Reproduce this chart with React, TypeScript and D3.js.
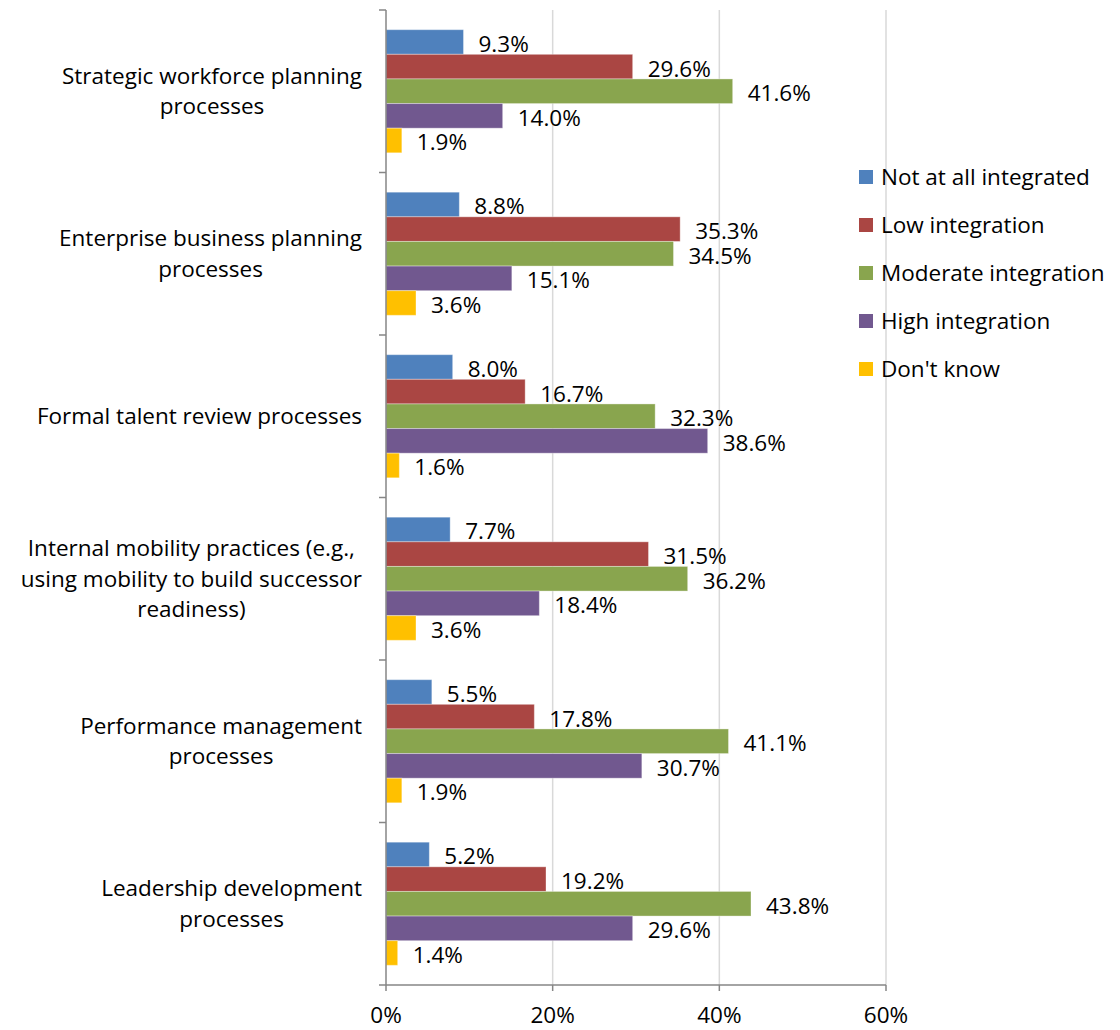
import { useEffect, useRef } from "react";
import * as d3 from "d3";

// categories (top to bottom) and their wrapped label lines
const categories = [
  "Strategic workforce planning processes",
  "Enterprise business planning processes",
  "Formal talent review processes",
  "Internal mobility practices (e.g., using mobility to build successor readiness)",
  "Performance management processes",
  "Leadership development processes",
];
const categoryLines = [
  ["Strategic workforce planning", "processes"],
  ["Enterprise business planning", "processes"],
  ["Formal talent review processes"],
  ["Internal mobility practices (e.g.,", "using mobility to build successor", "readiness)"],
  ["Performance management", "processes"],
  ["Leadership development", "processes"],
];

const seriesNames = [
  "Not at all integrated",
  "Low integration",
  "Moderate integration",
  "High integration",
  "Don't know",
];
const seriesColors = ["#4f81bd", "#aa4643", "#89a54e", "#71588f", "#ffc000"];

const notAtAll = [9.3, 8.8, 8.0, 7.7, 5.5, 5.2];
const lowIntegration = [29.6, 35.3, 16.7, 31.5, 17.8, 19.2];
const moderateIntegration = [41.6, 34.5, 32.3, 36.2, 41.1, 43.8];
const highIntegration = [14.0, 15.1, 38.6, 18.4, 30.7, 29.6];
const dontKnow = [1.9, 3.6, 1.6, 3.6, 1.9, 1.4];

const xTicks = [0, 20, 40, 60];

const FONT = "'Open Sans', sans-serif";
const FS = "22.5px";

export default function App() {
  const ref = useRef<SVGSVGElement>(null);

  useEffect(() => {
    const svg = d3.select(ref.current);
    svg.selectAll("*").remove();

    const series = [notAtAll, lowIntegration, moderateIntegration, highIntegration, dontKnow];
    const rows = categories.map((c, i) => ({
      category: c,
      values: series.map((s, j) => ({ name: seriesNames[j], value: s[i] })),
    }));

    const left = 386;
    const right = 886;
    const top = 10;
    const bottom = 985;

    const x = d3.scaleLinear().domain([0, 60]).range([left, right]);
    const y = d3.scaleBand().domain(categories).range([top, bottom]).padding(0);
    const ySub = d3
      .scaleBand()
      .domain(seriesNames)
      .range([0, y.bandwidth()])
      .paddingInner(0)
      .paddingOuter(0.8);

    // gridlines
    svg
      .append("g")
      .selectAll("line")
      .data(xTicks.filter((t) => t > 0))
      .enter()
      .append("line")
      .attr("x1", (d) => x(d))
      .attr("x2", (d) => x(d))
      .attr("y1", top)
      .attr("y2", bottom)
      .attr("stroke", "#d9d9d9")
      .attr("stroke-width", 1.5);

    // bars
    const groups = svg
      .append("g")
      .selectAll("g")
      .data(rows)
      .enter()
      .append("g")
      .attr("transform", (d) => `translate(0,${y(d.category)})`);

    groups
      .selectAll("rect")
      .data((d) => d.values)
      .enter()
      .append("rect")
      .attr("x", x(0))
      .attr("y", (d) => ySub(d.name)!)
      .attr("width", (d) => x(d.value) - x(0))
      .attr("height", ySub.bandwidth())
      .attr("fill", (_d, i) => seriesColors[i])
      .attr("stroke", "rgba(255,255,255,0.35)")
      .attr("stroke-width", 1);

    groups
      .selectAll("text")
      .data((d) => d.values)
      .enter()
      .append("text")
      .attr("x", (d) => x(d.value) + 15)
      .attr("y", (d) => ySub(d.name)! + ySub.bandwidth() / 2 + 2)
      .attr("dy", "0.35em")
      .style("font-family", FONT)
      .style("font-size", FS)
      .style("fill", "#000")
      .text((d) => d.value.toFixed(1) + "%");

    // x axis
    const xAxis = svg.append("g");
    xAxis
      .append("line")
      .attr("x1", left)
      .attr("x2", right)
      .attr("y1", bottom)
      .attr("y2", bottom)
      .attr("stroke", "#868686")
      .attr("stroke-width", 1.5);
    xAxis
      .selectAll(".tick")
      .data(xTicks)
      .enter()
      .append("line")
      .attr("x1", (d) => x(d))
      .attr("x2", (d) => x(d))
      .attr("y1", bottom)
      .attr("y2", bottom + 6)
      .attr("stroke", "#868686")
      .attr("stroke-width", 1.5);
    xAxis
      .selectAll("text")
      .data(xTicks)
      .enter()
      .append("text")
      .attr("x", (d) => x(d))
      .attr("y", bottom + 30)
      .attr("dy", "0.35em")
      .attr("text-anchor", "middle")
      .style("font-family", FONT)
      .style("font-size", FS)
      .text((d) => d + "%");

    // y axis
    const yAxis = svg.append("g");
    yAxis
      .append("line")
      .attr("x1", left)
      .attr("x2", left)
      .attr("y1", top)
      .attr("y2", bottom)
      .attr("stroke", "#868686")
      .attr("stroke-width", 1.5);
    const boundaries = categories.map((c) => y(c)!).concat([bottom]);
    yAxis
      .selectAll(".tick")
      .data(boundaries)
      .enter()
      .append("line")
      .attr("x1", left - 7)
      .attr("x2", left)
      .attr("y1", (d) => d)
      .attr("y2", (d) => d)
      .attr("stroke", "#868686")
      .attr("stroke-width", 1.5);

    // category labels, each block centred, right edge near the axis
    const labelRight = 362;
    const lineH = 30.5;
    categories.forEach((c, i) => {
      const lines = categoryLines[i];
      const g = svg.append("g");
      const cy = y(c)! + y.bandwidth() / 2;
      const texts = g
        .selectAll("text")
        .data(lines)
        .enter()
        .append("text")
        .attr("y", (_d, k) => cy + (k - (lines.length - 1) / 2) * lineH)
        .attr("dy", "0.35em")
        .attr("text-anchor", "middle")
        .style("font-family", FONT)
        .style("font-size", FS)
        .text((d) => d);
      let maxW = 0;
      texts.each(function () {
        maxW = Math.max(maxW, (this as SVGTextElement).getComputedTextLength());
      });
      texts.attr("x", labelRight - maxW / 2);
    });

    // legend
    const legend = svg
      .append("g")
      .selectAll("g")
      .data(seriesNames)
      .enter()
      .append("g")
      .attr("transform", (_d, i) => `translate(859,${177 + i * 48})`);
    legend
      .append("rect")
      .attr("x", 0)
      .attr("y", -7)
      .attr("width", 14)
      .attr("height", 14)
      .attr("fill", (_d, i) => seriesColors[i]);
    legend
      .append("text")
      .attr("x", 22)
      .attr("y", 0)
      .attr("dy", "0.35em")
      .style("font-family", FONT)
      .style("font-size", FS)
      .text((d) => d);
  }, []);

  return (
    <svg
      ref={ref}
      width={1120}
      height={1030}
      style={{ position: "absolute", left: 0, top: 0, background: "#fff" }}
    />
  );
}
